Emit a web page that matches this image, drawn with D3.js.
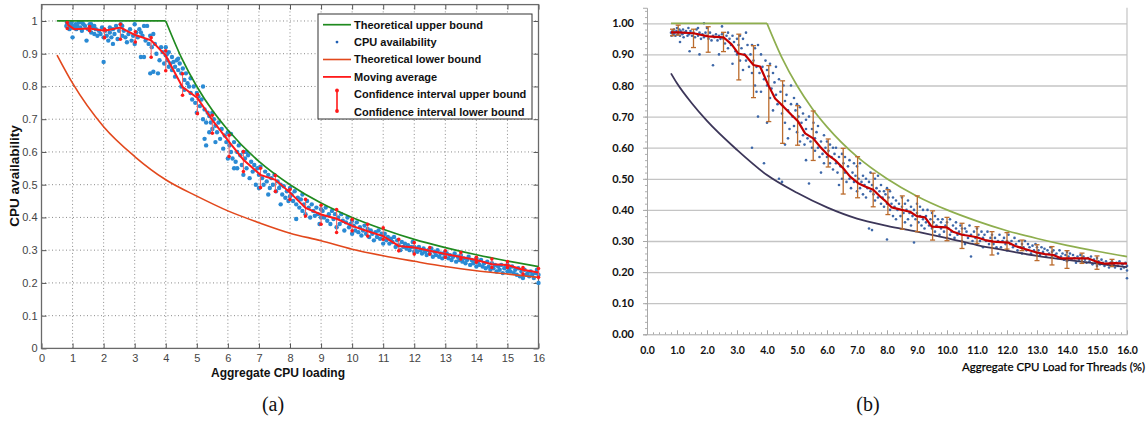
<!DOCTYPE html>
<html><head><meta charset="utf-8">
<script src="https://cdn.jsdelivr.net/npm/d3@7"></script>
<style>
html,body{margin:0;padding:0;background:#fff;}
svg{display:block;}
</style></head>
<body>
<svg id="chart" width="1146" height="423"></svg>
<script>
// ---------------- Panel (a) data ----------------
const xTicksA = [0,1,2,3,4,5,6,7,8,9,10,11,12,13,14,15,16];
const yTicksA = [0,0.1,0.2,0.3,0.4,0.5,0.6,0.7,0.8,0.9,1];
const upperAx = [0.5,4,4.5,5,5.5,6,7,8,9,10,11,12,13,14,15,16];
const upperAy = [1,1,0.889,0.8,0.727,0.667,0.571,0.5,0.444,0.4,0.364,0.333,0.308,0.286,0.267,0.25];
const lowerAx = [0.5,1,2,3,4,5,6,7,8,9,10,11,12,13,14,15,16];
const lowerAy = [0.896,0.81,0.677,0.586,0.515,0.465,0.42,0.384,0.352,0.329,0.303,0.283,0.266,0.25,0.237,0.227,0.217];
const maAx = [0.83,1.05,1.55,2.03,2.54,3.02,3.53,4.0,4.54,5.02,5.5,6.04,6.5,7.05,7.53,8.01,8.5,9.0,9.5,10.0,10.5,11.0,11.5,12.0,12.5,13.0,13.5,14.0,14.5,15.0,15.5,16.0];
const maAy = [0.990,0.975,0.977,0.970,0.980,0.957,0.941,0.894,0.798,0.765,0.697,0.631,0.576,0.530,0.515,0.475,0.429,0.409,0.396,0.374,0.358,0.343,0.313,0.308,0.298,0.288,0.279,0.270,0.257,0.255,0.240,0.232];
const ciAx = [0.83,1.55,2.03,2.54,3.02,3.53,4.0,4.54,5.02,5.5,6.04,6.5,7.05,7.53,8.0,8.5,9.0,9.5,10.0,10.5,11.0,11.5,12.0,12.5,13.0,13.5,14.0,14.5,15.0,15.5,16.0];
const ciAhi = [0.995,0.983,0.975,0.990,0.967,0.949,0.909,0.839,0.775,0.712,0.651,0.601,0.550,0.528,0.485,0.455,0.437,0.424,0.394,0.379,0.368,0.333,0.323,0.308,0.298,0.293,0.278,0.273,0.265,0.247,0.244];
const ciAlo = [0.977,0.970,0.949,0.944,0.936,0.889,0.848,0.773,0.717,0.657,0.586,0.540,0.491,0.479,0.455,0.404,0.379,0.354,0.359,0.343,0.333,0.298,0.288,0.288,0.278,0.273,0.263,0.247,0.247,0.227,0.217];
const scatterA = [
[0.8,0.985],[0.82,0.995],[0.85,0.98],[0.88,0.99],[0.9,0.975],[0.92,0.99],[0.95,0.98],[0.97,0.995],[1.0,0.95],[1.0,0.985],
[1.05,0.98],[1.1,0.99],[1.12,0.975],[1.15,0.985],[1.2,0.995],[1.25,0.98],[1.3,0.97],[1.35,0.99],[1.4,0.985],[1.45,0.94],[1.5,0.975],[1.55,0.99],[1.6,0.965],[1.65,0.98],[1.7,0.96],[1.75,0.975],[1.8,0.955],[1.85,0.97],[1.9,0.96],[1.95,0.98],[2.0,0.875],[2.0,0.95],[1.6,0.99],[1.3,0.995],[1.7,0.985],
[2.05,0.97],[2.1,0.955],[2.15,0.94],[2.2,0.965],[2.25,0.95],[2.3,0.975],[2.35,0.96],[2.4,0.985],[2.45,0.945],[2.5,0.97],[2.55,0.99],[2.6,0.955],[2.65,0.97],[2.7,0.95],[2.75,0.935],[2.8,0.96],[2.85,0.975],[2.9,0.94],[2.95,0.955],[3.0,0.99],[3.0,0.93],[2.3,0.93],[2.6,0.985],[2.2,0.98],
[3.05,0.965],[3.1,0.95],[3.15,0.975],[3.2,0.89],[3.25,0.955],[3.3,0.985],[3.3,0.89],[3.35,0.94],[3.4,0.985],[3.45,0.93],[3.5,0.955],[3.5,0.84],[3.55,0.92],[3.6,0.845],[3.65,0.93],[3.7,0.9],[3.75,0.84],[3.8,0.88],[3.85,0.92],[3.9,0.905],[3.95,0.87],[4.0,0.92],[4.0,0.895],[3.6,0.96],[3.2,0.965],
[4.05,0.88],[4.1,0.86],[4.1,0.905],[4.15,0.87],[4.2,0.89],[4.2,0.85],[4.25,0.875],[4.3,0.86],[4.3,0.83],[4.35,0.88],[4.4,0.85],[4.45,0.87],[4.5,0.84],[4.5,0.8],[4.55,0.855],[4.6,0.82],[4.6,0.79],[4.65,0.84],[4.7,0.81],[4.75,0.8],[4.8,0.78],[4.85,0.76],[4.9,0.8],[4.95,0.75],[5.0,0.78],[5.0,0.72],[4.8,0.825],[4.4,0.885],[4.05,0.9],
[5.05,0.77],[5.1,0.74],[5.15,0.76],[5.2,0.8],[5.2,0.7],[5.25,0.73],[5.3,0.62],[5.3,0.69],[5.35,0.72],[5.4,0.71],[5.4,0.66],[5.45,0.69],[5.5,0.67],[5.55,0.7],[5.6,0.68],[5.6,0.63],[5.65,0.66],[5.7,0.69],[5.75,0.64],[5.8,0.67],[5.85,0.61],[5.9,0.65],[5.95,0.63],[6.0,0.66],[6.0,0.58],[5.25,0.64],[5.5,0.72],
[6.05,0.62],[6.1,0.6],[6.1,0.655],[6.15,0.58],[6.2,0.63],[6.25,0.57],[6.3,0.6],[6.3,0.55],[6.35,0.62],[6.4,0.59],[6.45,0.56],[6.5,0.6],[6.5,0.53],[6.55,0.58],[6.6,0.55],[6.65,0.59],[6.7,0.52],[6.75,0.57],[6.8,0.54],[6.85,0.56],[6.9,0.5],[6.95,0.55],[7.0,0.53],[7.0,0.49],[6.2,0.55],[6.6,0.6],
[7.05,0.555],[7.1,0.52],[7.15,0.5],[7.2,0.54],[7.25,0.51],[7.3,0.53],[7.35,0.49],[7.4,0.52],[7.45,0.5],[7.5,0.53],[7.55,0.48],[7.6,0.51],[7.65,0.49],[7.7,0.5],[7.75,0.47],[7.8,0.495],[7.85,0.46],[7.9,0.48],[7.95,0.45],[8.0,0.49],[8.0,0.465],[7.3,0.47],[7.7,0.44],
[8.05,0.47],[8.1,0.45],[8.15,0.48],[8.2,0.395],[8.2,0.44],[8.25,0.46],[8.3,0.43],[8.35,0.455],[8.4,0.42],[8.45,0.44],[8.5,0.41],[8.55,0.45],[8.6,0.43],[8.65,0.4],[8.7,0.44],[8.75,0.42],[8.8,0.405],[8.85,0.43],[8.9,0.41],[8.95,0.38],[9.0,0.425],[9.0,0.4],[8.4,0.47],
[9.05,0.42],[9.1,0.4],[9.15,0.43],[9.2,0.39],[9.25,0.41],[9.3,0.38],[9.35,0.42],[9.4,0.395],[9.45,0.41],[9.5,0.37],[9.55,0.4],[9.6,0.38],[9.65,0.41],[9.7,0.39],[9.75,0.36],[9.8,0.385],[9.85,0.4],[9.9,0.37],[9.95,0.38],[10.0,0.35],[10.0,0.39],
[10.05,0.375],[10.1,0.36],[10.15,0.385],[10.2,0.355],[10.25,0.37],[10.3,0.345],[10.35,0.36],[10.4,0.375],[10.45,0.35],[10.5,0.365],[10.55,0.34],[10.6,0.36],[10.65,0.35],[10.7,0.33],[10.75,0.355],[10.8,0.34],[10.85,0.36],[10.9,0.335],[10.95,0.35],[11.0,0.32],[11.0,0.345],
[11.05,0.35],[11.1,0.33],[11.15,0.34],[11.2,0.32],[11.25,0.335],[11.3,0.325],[11.35,0.34],[11.4,0.31],[11.45,0.33],[11.5,0.315],[11.55,0.3],[11.6,0.325],[11.65,0.31],[11.7,0.32],[11.75,0.305],[11.8,0.315],[11.85,0.3],[11.9,0.31],[11.95,0.325],[12.0,0.295],[12.0,0.31],
[12.05,0.305],[12.1,0.295],[12.15,0.31],[12.2,0.3],[12.25,0.29],[12.3,0.305],[12.35,0.295],[12.4,0.285],[12.45,0.3],[12.5,0.29],[12.55,0.305],[12.6,0.28],[12.65,0.295],[12.7,0.285],[12.75,0.3],[12.8,0.28],[12.85,0.29],[12.9,0.275],[12.95,0.29],[13.0,0.28],[13.0,0.295],
[13.05,0.29],[13.1,0.275],[13.15,0.285],[13.2,0.27],[13.25,0.28],[13.3,0.29],[13.35,0.265],[13.4,0.28],[13.45,0.27],[13.5,0.285],[13.55,0.265],[13.6,0.275],[13.65,0.26],[13.7,0.27],[13.75,0.28],[13.8,0.255],[13.85,0.27],[13.9,0.26],[13.95,0.265],[14.0,0.25],[14.0,0.275],
[14.05,0.265],[14.1,0.255],[14.15,0.27],[14.2,0.25],[14.25,0.26],[14.3,0.245],[14.35,0.265],[14.4,0.25],[14.45,0.24],[14.5,0.26],[14.55,0.245],[14.6,0.255],[14.65,0.235],[14.7,0.25],[14.75,0.24],[14.8,0.255],[14.85,0.23],[14.9,0.245],[14.95,0.25],[15.0,0.235],[15.0,0.255],
[15.05,0.245],[15.1,0.235],[15.15,0.25],[15.2,0.23],[15.25,0.24],[15.3,0.225],[15.35,0.245],[15.4,0.22],[15.45,0.235],[15.5,0.215],[15.55,0.24],[15.6,0.225],[15.65,0.23],[15.7,0.22],[15.75,0.235],[15.8,0.225],[15.85,0.215],[15.9,0.23],[15.95,0.24],[16.0,0.2],[16.0,0.225]
];
const legendA = ["Theoretical upper bound","CPU availability","Theoretical lower bound","Moving average","Confidence interval upper bound","Confidence interval lower bound"];

// ---------------- Panel (b) data ----------------
const xTicksB = [0,1,2,3,4,5,6,7,8,9,10,11,12,13,14,15,16];
const yTicksB = [0,0.1,0.2,0.3,0.4,0.5,0.6,0.7,0.8,0.9,1.0];
const upperBx = [0.8,4,4.5,5,5.5,6,7,8,9,10,11,12,13,14,15,16];
const upperBy = [1,1,0.889,0.8,0.727,0.667,0.571,0.5,0.444,0.4,0.364,0.333,0.308,0.286,0.267,0.25];
const lowerBx = [0.8,1,1.5,2,3,4,5,6,7,8,9,10,11,12,13,14,15,16];
const lowerBy = [0.839,0.807,0.742,0.686,0.593,0.512,0.455,0.408,0.372,0.349,0.330,0.309,0.287,0.269,0.252,0.239,0.227,0.216];
const maBx = [0.8,1.04,1.55,2.04,2.55,2.82,3.04,3.27,3.55,3.77,4.04,4.27,4.55,4.82,5.04,5.27,5.54,5.77,6.04,6.27,6.54,6.77,7.04,7.27,7.54,7.77,7.93,8.16,8.49,8.77,8.99,9.27,9.49,9.99,10.2,10.5,10.77,10.99,11.27,11.54,12.04,12.27,12.54,12.99,13.27,13.54,13.82,14.49,14.71,14.99,15.27,15.6,16.0];
const maBy = [0.971,0.971,0.968,0.958,0.955,0.932,0.903,0.898,0.866,0.861,0.802,0.758,0.732,0.705,0.684,0.646,0.630,0.603,0.576,0.560,0.534,0.507,0.486,0.475,0.465,0.443,0.430,0.408,0.400,0.394,0.380,0.376,0.346,0.344,0.330,0.320,0.316,0.312,0.303,0.298,0.295,0.284,0.276,0.263,0.258,0.255,0.244,0.244,0.244,0.233,0.227,0.229,0.227];
const ciBx = [0.85,1.04,1.55,2.04,2.55,3.06,3.55,4.06,4.52,5.02,5.54,6.04,6.54,7.02,7.54,8.03,8.51,9.01,9.52,10.0,10.5,11.0,11.5,12.0,12.5,13.0,13.5,14.0,14.5,15.0,15.5];
const ciBhi = [0.981,0.994,0.981,0.989,0.971,0.965,0.928,0.864,0.815,0.735,0.718,0.628,0.598,0.571,0.518,0.465,0.445,0.445,0.397,0.376,0.357,0.346,0.330,0.327,0.303,0.288,0.282,0.269,0.261,0.252,0.241];
const ciBlo = [0.960,0.962,0.922,0.907,0.909,0.818,0.761,0.684,0.614,0.608,0.559,0.538,0.451,0.439,0.410,0.385,0.338,0.330,0.303,0.301,0.276,0.292,0.255,0.274,0.269,0.237,0.223,0.212,0.228,0.209,0.218];
const scatterB = [
[0.8,0.97],[0.82,0.96],[0.85,0.975],[0.88,0.965],[0.9,0.98],[0.92,0.97],[0.95,0.96],[0.98,0.975],[1.0,0.985],[1.02,0.965],[1.05,0.97],[1.08,0.98],[1.1,0.96],[1.12,0.975],[1.15,0.97],[1.18,0.965],[1.2,0.98],[1.22,0.955],[1.25,0.97],[1.3,0.975],[1.35,0.96],[1.38,0.985],[1.4,0.965],[1.45,0.975],[1.5,0.96],[1.42,0.91],[1.1,0.94],
[1.55,0.97],[1.6,0.955],[1.65,0.98],[1.7,0.96],[1.75,0.97],[1.8,0.95],[1.85,0.965],[1.9,1.0],[1.9,0.955],[1.95,0.97],[2.0,0.96],[2.05,0.95],[2.1,0.97],[2.15,0.945],[2.2,0.96],[2.25,0.955],[2.3,0.965],[2.35,0.945],[2.4,0.96],[2.45,0.95],[2.5,0.965],[1.75,0.9],[2.2,0.865],[2.4,0.9],[2.5,0.99],[1.7,0.985],[2.0,0.985],
[2.55,0.95],[2.6,0.935],[2.65,0.96],[2.7,0.92],[2.75,0.95],[2.8,0.93],[2.85,0.96],[2.9,0.94],[2.95,0.91],[3.0,0.95],[3.05,0.93],[3.1,0.96],[3.1,0.88],[3.15,0.92],[3.2,0.95],[3.2,0.85],[3.25,0.9],[3.3,0.97],[3.3,0.88],[3.35,0.93],[3.4,0.86],[3.45,0.9],[3.5,0.93],[3.5,0.84],[2.7,0.97],[3.0,0.9],[2.85,0.87],
[3.55,0.88],[3.6,0.92],[3.6,0.8],[3.65,0.86],[3.7,0.93],[3.7,0.7],[3.75,0.84],[3.8,0.9],[3.8,0.78],[3.85,0.86],[3.9,0.82],[3.9,0.55],[3.95,0.88],[4.0,0.8],[4.0,0.85],[4.05,0.83],[4.1,0.76],[4.1,0.87],[4.15,0.79],[4.2,0.84],[4.2,0.72],[4.25,0.81],[4.3,0.77],[4.3,0.86],[4.35,0.74],[4.4,0.82],[4.4,0.5],[4.45,0.78],[4.5,0.71],[4.5,0.49],[3.5,0.6],[3.65,0.78],[4.0,0.68],
[4.55,0.8],[4.6,0.75],[4.6,0.68],[4.65,0.77],[4.7,0.72],[4.75,0.66],[4.8,0.74],[4.8,0.8],[4.85,0.7],[4.9,0.67],[4.9,0.76],[4.95,0.72],[5.0,0.65],[5.0,0.74],[5.05,0.7],[5.1,0.62],[5.1,0.73],[5.15,0.68],[5.2,0.64],[5.2,0.71],[5.25,0.61],[5.3,0.69],[5.3,0.66],[5.35,0.63],[5.4,0.7],[5.4,0.485],[5.45,0.62],[5.5,0.66],[5.5,0.6],[4.7,0.63],[5.3,0.56],[4.6,0.61],
[5.55,0.68],[5.6,0.63],[5.6,0.59],[5.65,0.65],[5.7,0.6],[5.7,0.67],[5.75,0.57],[5.8,0.62],[5.85,0.58],[5.9,0.64],[5.9,0.55],[5.95,0.6],[6.0,0.57],[6.0,0.62],[6.05,0.59],[6.1,0.55],[6.1,0.61],[6.15,0.57],[6.2,0.6],[6.2,0.53],[6.25,0.58],[6.3,0.55],[6.3,0.6],[6.35,0.52],[6.4,0.57],[6.45,0.54],[6.5,0.58],[6.5,0.5],[5.8,0.52],[6.4,0.48],
[6.55,0.55],[6.6,0.52],[6.6,0.57],[6.65,0.49],[6.7,0.54],[6.75,0.5],[6.75,0.56],[6.8,0.47],[6.85,0.52],[6.9,0.55],[6.9,0.49],[6.95,0.51],[7.0,0.46],[7.0,0.54],[7.05,0.5],[7.1,0.47],[7.1,0.55],[7.15,0.49],[7.2,0.51],[7.2,0.45],[7.25,0.48],[7.3,0.5],[7.3,0.44],[7.35,0.47],[7.4,0.49],[7.4,0.34],[7.45,0.46],[7.5,0.48],[7.5,0.335],[7.45,0.52],
[7.55,0.45],[7.6,0.5],[7.6,0.43],[7.65,0.47],[7.7,0.44],[7.7,0.51],[7.75,0.46],[7.8,0.42],[7.8,0.48],[7.85,0.44],[7.9,0.46],[7.9,0.41],[7.95,0.45],[8.0,0.42],[8.0,0.47],[8.0,0.305],[8.05,0.44],[8.1,0.4],[8.1,0.46],[8.15,0.42],[8.2,0.44],[8.2,0.38],[8.25,0.41],[8.3,0.43],[8.3,0.37],[8.35,0.4],[8.4,0.42],[8.45,0.38],[8.5,0.41],[8.5,0.44],
[8.55,0.39],[8.6,0.42],[8.6,0.36],[8.65,0.4],[8.7,0.43],[8.7,0.37],[8.75,0.39],[8.8,0.41],[8.8,0.35],[8.85,0.38],[8.9,0.4],[8.9,0.295],[8.95,0.37],[9.0,0.39],[9.0,0.42],[9.05,0.36],[9.1,0.38],[9.1,0.41],[9.15,0.35],[9.2,0.37],[9.2,0.4],[9.25,0.34],[9.3,0.38],[9.3,0.36],[9.35,0.4],[9.4,0.35],[9.45,0.37],[9.5,0.34],[9.5,0.39],
[9.55,0.36],[9.6,0.33],[9.6,0.38],[9.65,0.35],[9.7,0.37],[9.75,0.32],[9.8,0.36],[9.8,0.34],[9.85,0.37],[9.9,0.33],[9.95,0.35],[10.0,0.31],[10.0,0.36],[10.05,0.34],[10.1,0.32],[10.1,0.37],[10.15,0.33],[10.2,0.35],[10.25,0.31],[10.3,0.34],[10.3,0.36],[10.35,0.32],[10.4,0.33],[10.45,0.35],[10.5,0.3],[10.5,0.34],
[10.55,0.32],[10.6,0.34],[10.6,0.29],[10.65,0.33],[10.7,0.31],[10.75,0.35],[10.8,0.25],[10.8,0.32],[10.85,0.3],[10.9,0.33],[10.95,0.31],[11.0,0.29],[11.0,0.34],[11.05,0.32],[11.1,0.3],[11.15,0.33],[11.2,0.31],[11.2,0.28],[11.25,0.32],[11.3,0.3],[11.35,0.33],[11.4,0.29],[11.45,0.31],[11.5,0.3],[11.5,0.32],
[11.55,0.29],[11.6,0.31],[11.65,0.28],[11.7,0.3],[11.75,0.32],[11.8,0.28],[11.85,0.3],[11.9,0.31],[11.95,0.29],[12.0,0.3],[12.0,0.27],[12.05,0.32],[12.1,0.29],[12.15,0.3],[12.2,0.28],[12.25,0.31],[12.3,0.29],[12.35,0.27],[12.4,0.3],[12.45,0.28],[12.5,0.29],[12.5,0.26],[11.7,0.26],
[12.55,0.28],[12.6,0.3],[12.65,0.27],[12.7,0.29],[12.75,0.28],[12.8,0.26],[12.85,0.285],[12.9,0.27],[12.95,0.29],[13.0,0.26],[13.0,0.28],[13.05,0.27],[13.1,0.255],[13.15,0.28],[13.2,0.265],[13.25,0.275],[13.3,0.25],[13.35,0.27],[13.4,0.26],[13.45,0.28],[13.5,0.25],[13.5,0.265],
[13.55,0.27],[13.6,0.255],[13.65,0.26],[13.7,0.245],[13.75,0.27],[13.8,0.25],[13.85,0.26],[13.9,0.24],[13.95,0.255],[14.0,0.265],[14.0,0.235],[14.05,0.25],[14.1,0.26],[14.15,0.24],[14.2,0.255],[14.25,0.245],[14.3,0.23],[14.35,0.25],[14.4,0.24],[14.45,0.255],[14.5,0.235],[14.5,0.245],
[14.55,0.25],[14.6,0.24],[14.65,0.23],[14.7,0.245],[14.75,0.235],[14.8,0.25],[14.85,0.225],[14.9,0.24],[14.95,0.23],[15.0,0.245],[15.0,0.22],[15.05,0.235],[15.1,0.225],[15.15,0.24],[15.2,0.23],[15.25,0.22],[15.3,0.235],[15.35,0.225],[15.4,0.215],[15.45,0.23],[15.5,0.22],[15.5,0.235],
[15.55,0.225],[15.6,0.215],[15.65,0.23],[15.7,0.22],[15.75,0.235],[15.8,0.21],[15.85,0.225],[15.9,0.215],[15.95,0.23],[16.0,0.22],[16.0,0.205],[16.0,0.18]
];
const captions = ["(a)","(b)"];

// ---------------- Drawing ----------------
const svg = d3.select("#chart");
const zip = (xs, ys) => xs.map((x,i) => [x, ys[i]]);

// ===== Panel (a) =====
const xA = d3.scaleLinear().domain([0,16]).range([41.5,538.5]);
const yA = d3.scaleLinear().domain([0,1.05]).range([348.4,4.6]);
const gA = svg.append("g");
const fontA = "'Liberation Sans', Arial, sans-serif";

// grid
gA.append("g").selectAll("line").data(xTicksA.slice(1,-1)).join("line")
  .attr("x1", d=>xA(d)).attr("x2", d=>xA(d)).attr("y1", yA.range()[0]).attr("y2", yA.range()[1])
  .attr("stroke","#8a8a8a").attr("stroke-width",1).attr("stroke-dasharray","1,2.5");
gA.append("g").selectAll("line").data(yTicksA.slice(1)).join("line")
  .attr("x1", xA.range()[0]).attr("x2", xA.range()[1]).attr("y1", d=>yA(d)).attr("y2", d=>yA(d))
  .attr("stroke","#8a8a8a").attr("stroke-width",1).attr("stroke-dasharray","1,2.5");

// axes (inner ticks)
const axA_b = gA.append("g").attr("transform",`translate(0,${yA.range()[0]})`)
  .call(d3.axisBottom(xA).tickValues(xTicksA).tickSize(-5).tickPadding(6).tickFormat(d3.format("d")));
const axA_t = gA.append("g").attr("transform",`translate(0,${yA.range()[1]})`)
  .call(d3.axisTop(xA).tickValues(xTicksA).tickSize(-5).tickFormat(""));
const axA_l = gA.append("g").attr("transform",`translate(${xA.range()[0]},0)`)
  .call(d3.axisLeft(yA).tickValues(yTicksA).tickSize(-5).tickPadding(4).tickFormat(d => String(+d.toFixed(1))));
const axA_r = gA.append("g").attr("transform",`translate(${xA.range()[1]},0)`)
  .call(d3.axisRight(yA).tickValues(yTicksA).tickSize(-5).tickFormat(""));
[axA_b,axA_t,axA_l,axA_r].forEach(a => {
  a.select(".domain").remove();
  a.selectAll(".tick line").attr("stroke","#555");
  a.selectAll(".tick text").attr("fill","#444").style("font-family",fontA).style("font-size","11px");
});
gA.append("rect").attr("x",xA.range()[0]).attr("y",yA.range()[1])
  .attr("width",xA.range()[1]-xA.range()[0]).attr("height",yA.range()[0]-yA.range()[1])
  .attr("fill","none").attr("stroke","#6a6a6a").attr("stroke-width",1.3);

// scatter
gA.append("g").selectAll("circle").data(scatterA).join("circle")
  .attr("cx", d=>xA(d[0])).attr("cy", d=>yA(d[1])).attr("r",2.2).attr("fill","#2a8ad4");

const lineA = d3.line().x(d=>xA(d[0])).y(d=>yA(d[1]));
const lineAm = d3.line().x(d=>xA(d[0])).y(d=>yA(d[1])).curve(d3.curveMonotoneX);
const upA = zip(upperAx, upperAy);
gA.append("path").attr("d", lineA(upA.slice(0,2))).attr("fill","none").attr("stroke","#1f8a1f").attr("stroke-width",1.7);
gA.append("path").attr("d", lineAm(upA.slice(1))).attr("fill","none").attr("stroke","#1f8a1f").attr("stroke-width",1.7);
gA.append("path").attr("d", lineAm(zip(lowerAx, lowerAy))).attr("fill","none").attr("stroke","#e2481c").attr("stroke-width",1.6);

// CI (a)
const ciA = ciAx.map((x,i)=>({x, hi:ciAhi[i], lo:ciAlo[i]}));
gA.append("g").selectAll("line").data(ciA).join("line")
  .attr("x1",d=>xA(d.x)).attr("x2",d=>xA(d.x)).attr("y1",d=>yA(d.hi)).attr("y2",d=>yA(d.lo))
  .attr("stroke","#f26a6a").attr("stroke-width",1.1);
gA.append("g").selectAll("circle").data(ciA.flatMap(d=>[[d.x,d.hi],[d.x,d.lo]])).join("circle")
  .attr("cx",d=>xA(d[0])).attr("cy",d=>yA(d[1])).attr("r",1.8).attr("fill","#ff1a1a");
gA.append("path").attr("d", lineA(zip(maAx, maAy))).attr("fill","none").attr("stroke","#ff1a1a").attr("stroke-width",2);

// labels (a)
gA.append("text").attr("x",278).attr("y",377).attr("text-anchor","middle")
  .style("font-family",fontA).style("font-size","12px").style("font-weight","bold").attr("fill","#111")
  .text("Aggregate CPU loading");
gA.append("text").attr("transform","translate(19,176) rotate(-90)").attr("text-anchor","middle")
  .style("font-family",fontA).style("font-size","13.5px").style("font-weight","bold").attr("fill","#111")
  .text("CPU availability");

// legend (a)
const lg = gA.append("g");
lg.append("rect").attr("x",318).attr("y",14).attr("width",214).attr("height",105)
  .attr("fill","#fff").attr("stroke","#333").attr("stroke-width",1);
const rowY = [24.7,42.1,59.5,76.9,94.3,111.7];
legendA.forEach((t,i) => {
  lg.append("text").attr("x",354).attr("y",rowY[i]).attr("dy","0.36em")
    .style("font-family",fontA).style("font-size","11px").style("font-weight","bold").attr("fill","#111").text(t);
});
lg.append("line").attr("x1",323).attr("x2",351).attr("y1",rowY[0]).attr("y2",rowY[0]).attr("stroke","#1f8a1f").attr("stroke-width",1.7);
lg.append("circle").attr("cx",337).attr("cy",rowY[1]).attr("r",1.4).attr("fill","#1f5fb4");
lg.append("line").attr("x1",323).attr("x2",351).attr("y1",rowY[2]).attr("y2",rowY[2]).attr("stroke","#e2481c").attr("stroke-width",1.6);
lg.append("line").attr("x1",323).attr("x2",351).attr("y1",rowY[3]).attr("y2",rowY[3]).attr("stroke","#ff1a1a").attr("stroke-width",1.8);
lg.append("line").attr("x1",337).attr("x2",337).attr("y1",90.5).attr("y2",111).attr("stroke","#ff1a1a").attr("stroke-width",1.6);
lg.append("circle").attr("cx",337).attr("cy",90.5).attr("r",1.9).attr("fill","#ff1a1a");
lg.append("circle").attr("cx",337).attr("cy",111).attr("r",1.9).attr("fill","#ff1a1a");

// ===== Panel (b) =====
const xB = d3.scaleLinear().domain([0,16]).range([647,1127]);
const yB = d3.scaleLinear().domain([0,1.05]).range([334.3,7.75]);
const gB = svg.append("g");
const fontB = "Lato, 'Open Sans', sans-serif";

// horizontal gridlines
gB.append("g").attr("transform",`translate(${xB.range()[0]},0)`)
  .call(d3.axisLeft(yB).tickValues(yTicksB.slice(1)).tickSize(-(xB.range()[1]-xB.range()[0])).tickFormat(""))
  .call(a => { a.select(".domain").remove(); a.selectAll(".tick line").attr("stroke","#c4c4c4").attr("stroke-width",1.3); });
// right border
gB.append("line").attr("x1",xB(16)).attr("x2",xB(16)).attr("y1",yB.range()[1]).attr("y2",yB(0))
  .attr("stroke","#c4c4c4").attr("stroke-width",1.2);

// y axis with minor ticks
const yMinorB = d3.range(0,53).map(i => i*0.02).filter(v => v <= 1.05);
gB.append("g").attr("transform",`translate(${xB.range()[0]},0)`)
  .call(d3.axisLeft(yB).tickValues(yMinorB).tickSize(2).tickFormat(""))
  .call(a => { a.select(".domain").remove(); a.selectAll(".tick line").attr("stroke","#b0b0b0"); });
const axB_l = gB.append("g").attr("transform",`translate(${xB.range()[0]},0)`)
  .call(d3.axisLeft(yB).tickValues(yTicksB).tickSize(4).tickPadding(9).tickFormat(d3.format(".2f")));
axB_l.select(".domain").attr("stroke","#a8a8a8");
axB_l.selectAll(".tick line").attr("stroke","#a8a8a8");
axB_l.selectAll(".tick text").attr("fill","#111").style("font-family",fontB).style("font-size","11px").style("font-weight","bold");

// x axis with minor ticks
const xMinorB = d3.range(0,81).map(i => i*0.2);
gB.append("g").attr("transform",`translate(0,${yB(0)})`)
  .call(d3.axisTop(xB).tickValues(xMinorB).tickSize(2).tickFormat(""))
  .call(a => { a.select(".domain").remove(); a.selectAll(".tick line").attr("stroke","#a8a8a8"); });
const axB_b = gB.append("g").attr("transform",`translate(0,${yB(0)})`)
  .call(d3.axisBottom(xB).tickValues(xTicksB).tickSize(0).tickPadding(12).tickFormat(d3.format(".1f")));
axB_b.select(".domain").attr("stroke","#a8a8a8");
axB_b.selectAll(".tick text").attr("fill","#111").style("font-family",fontB).style("font-size","10.5px").style("font-weight","bold");
gB.append("g").attr("transform",`translate(0,${yB(0)})`)
  .call(d3.axisTop(xB).tickValues(xTicksB).tickSize(4).tickFormat(""))
  .call(a => { a.select(".domain").remove(); a.selectAll(".tick line").attr("stroke","#a8a8a8"); });

// scatter (b)
gB.append("g").selectAll("circle").data(scatterB).join("circle")
  .attr("cx", d=>xB(d[0])).attr("cy", d=>yB(d[1])).attr("r",1.3).attr("fill","#3d67a8");

const lineB = d3.line().x(d=>xB(d[0])).y(d=>yB(d[1]));
const lineBm = d3.line().x(d=>xB(d[0])).y(d=>yB(d[1])).curve(d3.curveMonotoneX);
const upB = zip(upperBx, upperBy);
gB.append("path").attr("d", lineB(upB.slice(0,2))).attr("fill","none").attr("stroke","#8eae4e").attr("stroke-width",1.7);
gB.append("path").attr("d", lineBm(upB.slice(1))).attr("fill","none").attr("stroke","#8eae4e").attr("stroke-width",1.7);
gB.append("path").attr("d", lineBm(zip(lowerBx, lowerBy))).attr("fill","none").attr("stroke","#3c3659").attr("stroke-width",1.8);

// CI (b)
const ciB = ciBx.map((x,i)=>({x, hi:ciBhi[i], lo:ciBlo[i]}));
const ciG = gB.append("g").attr("stroke","#bb6b2c").attr("stroke-width",1.3);
ciG.selectAll("line.v").data(ciB).join("line").attr("class","v")
  .attr("x1",d=>xB(d.x)).attr("x2",d=>xB(d.x)).attr("y1",d=>yB(d.hi)).attr("y2",d=>yB(d.lo));
ciG.selectAll("line.h").data(ciB.flatMap(d=>[[d.x,d.hi],[d.x,d.lo]])).join("line").attr("class","h")
  .attr("x1",d=>xB(d[0])-2.5).attr("x2",d=>xB(d[0])+2.5).attr("y1",d=>yB(d[1])).attr("y2",d=>yB(d[1]));
gB.append("path").attr("d", lineB(zip(maBx, maBy))).attr("fill","none").attr("stroke","#c40000").attr("stroke-width",2.2).attr("stroke-linejoin","round");

gB.append("text").attr("x",1145).attr("y",371).attr("text-anchor","end")
  .style("font-family",fontB).style("font-size","11.5px").attr("fill","#000")
  .attr("stroke","#000").attr("stroke-width",0.25)
  .text("Aggregate CPU Load for Threads (%)");

// captions
const capX = [273, 868];
captions.forEach((c,i) => {
  svg.append("text").attr("x",capX[i]).attr("y",411).attr("text-anchor","middle")
    .style("font-family","'Liberation Serif','DejaVu Serif',serif").style("font-size","20px").attr("fill","#111").text(c);
});
</script>
</body></html>
